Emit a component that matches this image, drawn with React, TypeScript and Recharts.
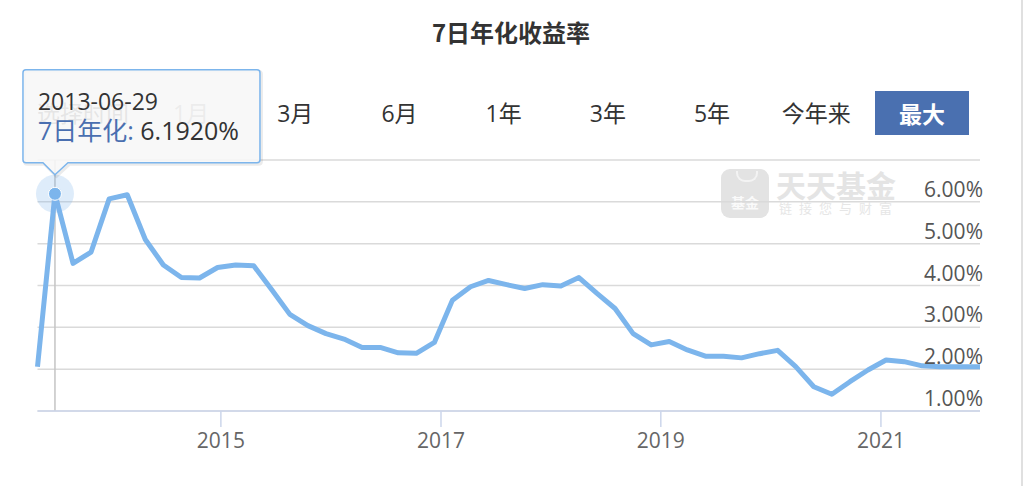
import React from 'react';
import { LineChart, Line, XAxis, YAxis, CartesianGrid, ReferenceLine, ReferenceDot } from 'recharts';

// sample dates of the 7-day annualised yield (roughly every 60 days)
const DATES = [
  '2013-05-02', '2013-06-29', '2013-08-28', '2013-10-27', '2013-12-26',
  '2014-02-24', '2014-04-25', '2014-06-24', '2014-08-23', '2014-10-22', '2014-12-21',
  '2015-02-19', '2015-04-20', '2015-06-19', '2015-08-18', '2015-10-17', '2015-12-16',
  '2016-02-14', '2016-04-14', '2016-06-13', '2016-08-12', '2016-10-11', '2016-12-10',
  '2017-02-08', '2017-04-09', '2017-06-08', '2017-08-07', '2017-10-06', '2017-12-05',
  '2018-02-03', '2018-04-04', '2018-06-03', '2018-08-02', '2018-10-01', '2018-11-30',
  '2019-01-29', '2019-03-30', '2019-05-29', '2019-07-28', '2019-09-26', '2019-11-25',
  '2020-01-24', '2020-03-24', '2020-05-23', '2020-07-22', '2020-09-20', '2020-11-19',
  '2021-01-18', '2021-03-19', '2021-05-18', '2021-07-17', '2021-09-15', '2021-11-26',
];

// 7日年化 (%)
const YIELDS = [
  2.06, 6.192, 4.53, 4.8, 6.07,
  6.17, 5.1, 4.49, 4.19, 4.18, 4.43,
  4.49, 4.47, 3.9, 3.31, 3.04, 2.85,
  2.72, 2.52, 2.52, 2.39, 2.38, 2.64,
  3.65, 3.97, 4.12, 4.02, 3.93, 4.02,
  3.99, 4.19, 3.81, 3.45, 2.85, 2.58,
  2.66, 2.46, 2.31, 2.31, 2.27, 2.37,
  2.45, 2.06, 1.58, 1.4, 1.7, 1.98,
  2.22, 2.18, 2.08, 2.06, 2.06, 2.06,
];

const YEAR_TICKS = ['2015-01-01', '2017-01-01', '2019-01-01', '2021-01-01'];
const PCT_TICKS = [1, 2, 3, 4, 5, 6, 7];
const RANGE_BUTTONS = ['1月', '3月', '6月', '1年', '3年', '5年', '今年来'];
const HOVER_INDEX = 1; // point under the tooltip in the screenshot

const FONT = '"Open Sans", "Noto Sans CJK SC", sans-serif';
const CJK = '"Noto Sans CJK SC", sans-serif';
const LINE_BLUE = '#7cb5ec';

const toTime = (s: string) => Date.UTC(+s.slice(0, 4), +s.slice(5, 7) - 1, +s.slice(8, 10));

const data = DATES.map((d, i) => ({ t: toTime(d), date: d, v: YIELDS[i] }));
const hover = data[HOVER_INDEX];

const PctTick = (props: any) => {
  const { x, y, payload } = props;
  // top label is hidden in the original
  if (payload.value === PCT_TICKS[PCT_TICKS.length - 1]) return <g />;
  return (
    <text x={x + 3} y={y - 5} textAnchor="end" fill="#555" fontSize={21}>
      {payload.value.toFixed(2)}%
    </text>
  );
};

// hovered marker + halo + highcharts-like tooltip
const HoverShape = (props: any) => {
  const { cx, cy } = props;
  const l = cx - 32, r = cx + 205, t = cy - 124, b = cy - 31;
  const box = `M${l + 3},${t} L${r - 3},${t} Q${r},${t} ${r},${t + 3} L${r},${b - 3} Q${r},${b} ${r - 3},${b}
    L${cx + 13},${b} L${cx},${cy - 19} L${cx - 12},${b} L${l + 3},${b} Q${l},${b} ${l},${b - 3}
    L${l},${t + 3} Q${l},${t} ${l + 3},${t} Z`;
  return (
    <g>
      <circle cx={cx} cy={cy} r={19} fill="rgba(124,181,236,0.25)" />
      <circle cx={cx} cy={cy} r={6.5} fill={LINE_BLUE} stroke="#fff" strokeWidth={1} />
      <path d={box} transform="translate(1.5,1.5)" fill="none" stroke="rgba(0,0,0,0.08)" strokeWidth={3} />
      <path d={box} fill="rgba(247,247,247,0.88)" stroke={LINE_BLUE} strokeWidth={1.5} />
      <text x={cx - 17} y={cy - 84} fontSize={23} fill="#333">{hover.date}</text>
      <text x={cx - 17} y={cy - 54} fontSize={25}>
        <tspan fill="#4a6fb0">7日年化: </tspan>
        <tspan fill="#333">{hover.v.toFixed(4)}%</tspan>
      </text>
    </g>
  );
};

export default function App() {
  return (
    <div style={{ position: 'absolute', left: 0, top: 0, width: 1024, height: 486, background: '#fff', fontFamily: FONT }}>
      <div style={{ position: 'absolute', left: 0, width: 1022, top: 14, textAlign: 'center', fontSize: 24, fontWeight: 700, color: '#333', fontFamily: CJK }}>
        7日年化收益率
      </div>

      {/* range selector */}
      <div style={{ position: 'absolute', left: 37, top: 96, display: 'flex', alignItems: 'center', height: 32, fontSize: 23, color: '#333' }}>
        <span style={{ width: 102, color: '#666' }}>选择时间</span>
        {RANGE_BUTTONS.map((b, i) => (
          <span key={b} style={{ width: 104.2, textAlign: 'center', color: i === 0 ? '#999' : '#333' }}>{b}</span>
        ))}
      </div>
      <div style={{ position: 'absolute', left: 875, top: 91, width: 94, height: 44, background: '#4a70b0', color: '#fff', fontWeight: 700, fontSize: 23, lineHeight: '44px', textAlign: 'center', fontFamily: CJK }}>
        最大
      </div>

      {/* watermark */}
      <div style={{ position: 'absolute', left: 721, top: 169, width: 48, height: 49, borderRadius: 9, background: '#e3e3e3' }}>
        <div style={{ position: 'absolute', left: 15, top: 2, width: 18, height: 9, borderRadius: '0 0 9px 9px', border: '2px solid #f3f3f3', borderTop: 'none' }} />
        <div style={{ position: 'absolute', left: 0, width: 48, top: 23, textAlign: 'center', color: '#fafafa', fontSize: 14, fontWeight: 700, fontFamily: CJK }}>基金</div>
      </div>
      <div style={{ position: 'absolute', left: 776, top: 162, fontSize: 30, fontWeight: 700, color: '#e4e4e4', letterSpacing: 0, fontFamily: CJK }}>天天基金</div>
      <div style={{ position: 'absolute', left: 779, top: 198, fontSize: 13, color: '#e6e6e6', letterSpacing: 7, fontFamily: CJK }}>链接您与财富</div>

      <div style={{ position: 'absolute', left: 1021, top: 0, width: 1.5, height: 486, background: '#e0e0e0' }} />

      <div style={{ position: 'absolute', left: 0, top: 0 }}>
        <LineChart width={1024} height={486} data={data} margin={{ top: 160, right: 43, bottom: 35, left: 37.5 }}>
          <CartesianGrid horizontal vertical={false} stroke="#dadada" strokeWidth={1.5} />
          <XAxis
            dataKey="t"
            type="number"
            scale="time"
            domain={[data[0].t, data[data.length - 1].t]}
            ticks={YEAR_TICKS.map(toTime)}
            tickFormatter={(v: number) => String(new Date(v).getUTCFullYear())}
            height={40}
            tickSize={16}
            tickMargin={6}
            stroke="#ccd6eb"
            strokeWidth={1.5}
            tick={{ fill: '#666', fontSize: 21 }}
          />
          <YAxis
            orientation="right"
            width={1}
            domain={[1, 7]}
            ticks={PCT_TICKS}
            axisLine={false}
            tickLine={false}
            tickSize={0}
            tickMargin={0}
            tick={<PctTick />}
          />
          <ReferenceLine x={hover.t} stroke="#c4c4c4" strokeWidth={1.5} />
          <Line
            dataKey="v"
            type="linear"
            stroke={LINE_BLUE}
            strokeWidth={5}
            strokeLinejoin="round"
            dot={false}
            activeDot={false}
            isAnimationActive={false}
          />
          <ReferenceDot x={hover.t} y={hover.v} ifOverflow="visible" shape={<HoverShape />} />
        </LineChart>
      </div>
    </div>
  );
}
